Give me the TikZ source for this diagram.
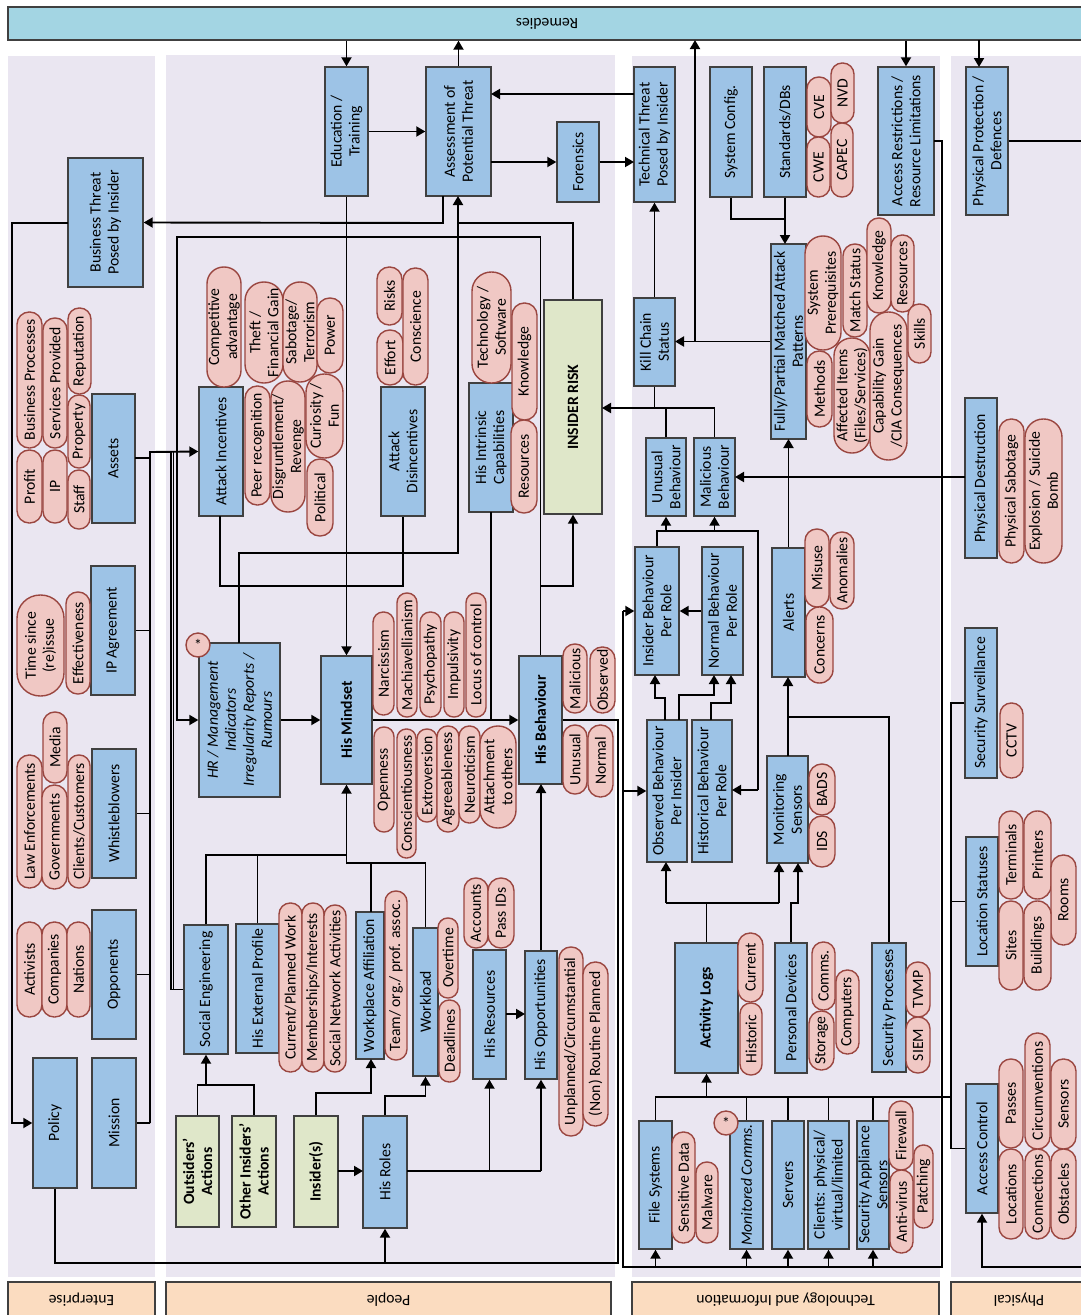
\documentclass[tikz,border=0pt]{standalone}
\usepackage{fontspec}
\setmainfont{Carlito}
\usetikzlibrary{arrows.meta}
\definecolor{remc}{HTML}{A3D5E3}
\definecolor{panel}{HTML}{EAE6F1}
\definecolor{bluec}{HTML}{9DC3E6}
\definecolor{pillc}{HTML}{F0C8C4}
\definecolor{pilld}{HTML}{9A4640}
\definecolor{greenc}{HTML}{DFE7C9}
\definecolor{peach}{HTML}{FBDCC0}
\definecolor{edge}{HTML}{404040}
\tikzset{
 txt/.style={font=\fontsize{15.7}{18}\selectfont},
 boxst/.style={draw=edge, line width=1.4pt, fill=bluec, inner sep=0pt},
 grnst/.style={draw=edge, line width=1.4pt, fill=greenc, inner sep=0pt},
 pillst/.style={draw=pilld, line width=1.4pt, fill=pillc, inner sep=0pt},
 labst/.style={draw=edge, line width=1.4pt, fill=peach, inner sep=0pt},
 rtxt/.style={rotate=90, align=center, txt, inner sep=0pt},
 conn/.style={line width=1.9pt, black},
 arr/.style={conn, -{Triangle[length=9pt,width=10pt]}},
}
\newcommand\BX[7]{\node[#1,minimum width={(#5-#3)*1pt},minimum height={(#6-#4)*1pt},label={[rtxt]center:{#7}}] (#2) at ({(#3+#5)/2},{(#4+#6)/2}) {};}
\newcommand\PL[6]{\pgfmathsetmacro\pillr{min(#4-#2,#5-#3)/2-0.3}\node[pillst,rounded corners=\pillr pt,minimum width={(#4-#2)*1pt},minimum height={(#5-#3)*1pt},label={[rtxt]center:{#6}}] (#1) at ({(#2+#4)/2},{(#3+#5)/2}) {};}
\begin{document}
\begin{tikzpicture}[x=1pt,y=-1pt]
\useasboundingbox (0,0) rectangle (1081,1315);
\clip (0,0) rectangle (1081,1315);
% panels
\fill[panel] (8,56) rectangle (155,1277);
\fill[panel] (166,55) rectangle (615,1277);
\fill[panel] (632,56) rectangle (940,1277);
\fill[panel] (951,56) rectangle (1095,1277);
% remedies bar and section labels
\node[labst,fill=remc,minimum width=1078pt,minimum height=33pt,label={[txt,rotate=180]center:Remedies}] (rem) at (547,23.5) {};
\node[labst,minimum width=147pt,minimum height=36pt,label={[txt,rotate=180]center:Enterprise}] (lent) at (81.5,1300) {};
\node[labst,minimum width=445pt,minimum height=36pt,label={[txt,rotate=180]center:People}] (lpeo) at (388.5,1300) {};
\node[labst,minimum width=307pt,minimum height=36pt,label={[txt,rotate=180]center:Technology and Information}] (ltec) at (785.5,1300) {};
\node[labst,minimum width=136pt,minimum height=36pt,label={[txt,rotate=180]center:Physical}] (lphy) at (1019,1300) {};
% ---------------- Enterprise
\BX{boxst}{bt}{68}{158}{143}{287}{Business Threat\\Posed by Insider}
\PL{pbp}{17}{312}{42}{448}{Business Processes}
\PL{psp}{43}{318}{67}{448}{Services Provided}
\PL{prep}{68}{308}{91}{394}{Reputation}
\PL{pprof}{17}{450}{42}{523}{Profit}
\PL{pip}{43}{450}{67}{523}{IP}
\PL{pprop}{68}{395}{90}{468}{Property}
\PL{pstaff}{68}{470}{90}{529}{Staff}
\BX{boxst}{assets}{92}{394}{135}{523}{Assets}
\BX{boxst}{ipa}{91}{566}{135}{695}{IP Agreement}
\PL{ptime}{17}{595}{64}{696}{Time since\\(re)issue}
\PL{peff}{66}{592}{90}{694}{Effectiveness}
\BX{boxst}{whist}{92}{749}{136}{878}{Whistleblowers}
\PL{plaw}{17}{755}{42}{888}{Law Enforcements}
\PL{pgov}{42}{785}{67}{889}{Governments}
\PL{pmedia}{43}{712}{67}{783}{Media}
\PL{pcli}{68}{755}{90}{888}{Clients/Customers}
\BX{boxst}{opp}{92}{910}{136}{1039}{Opponents}
\PL{pact}{17}{922}{42}{1017}{Activists}
\PL{pcomp}{42}{922}{67}{1017}{Companies}
\PL{pnat}{67}{922}{90}{1017}{Nations}
\BX{boxst}{policy}{33}{1058}{77}{1188}{Policy}
\BX{boxst}{mission}{92}{1058}{136}{1188}{Mission}
% ---------------- People
\BX{boxst}{edu}{325}{67}{368}{196}{Education /\\Training}
\BX{boxst}{assess}{426}{67}{491}{196}{Assessment of\\Potential Threat}
\BX{boxst}{foren}{557}{122}{599}{202}{Forensics}
\BX{boxst}{attinc}{199}{387}{243}{516}{Attack Incentives}
\PL{pcomp2}{207}{267}{241}{387}{Competitive\\advantage}
\PL{ptheft}{245}{282}{283}{383}{Theft /\\Financial Gain}
\PL{psabo}{283}{282}{317}{382}{Sabotage/\\Terrorism}
\PL{ppower}{317}{298}{343}{373}{Power}
\PL{ppeer}{245}{386}{270}{505}{Peer recognition}
\PL{pdis}{271}{381}{305}{512}{Disgruntlement/\\Revenge}
\PL{pcur}{306}{374}{343}{458}{Curiosity /\\Fun}
\PL{ppol}{307}{459}{333}{536}{Political}
\BX{boxst}{attdis}{381}{387}{425}{516}{Attack\\Disincentives}
\PL{prisks}{377}{267}{402}{325}{Risks}
\PL{peffort}{377}{330}{403}{385}{Effort}
\PL{pcons}{403}{268}{428}{385}{Conscience}
\BX{boxst}{intr}{469}{383}{513}{512}{His Intrinsic\\Capabilities}
\PL{ptech}{472}{272}{511}{383}{Technology /\\Software}
\PL{pknow}{512}{303}{537}{420}{Knowledge}
\PL{pres}{511}{420}{537}{513}{Resources}
\BX{grnst}{risk}{544}{300}{602}{514}{\textbf{INSIDER RISK}}
\BX{boxst}{hr}{199}{643}{280}{797}{\textit{HR / Management}\\\textit{Indicators}\\\textit{Irregularity Reports /}\\\textit{Rumours}}
\node[pillst,circle,minimum size=24pt,txt] (star1) at (198,645) {*};
\BX{boxst}{mind}{321}{656}{372}{784}{\textbf{His Mindset}}
\PL{pnar}{373}{612}{394}{715}{Narcissism}
\PL{pmach}{397}{593}{417}{717}{Machiavellianism}
\PL{ppsy}{420}{612}{441}{717}{Psychopathy}
\PL{pimp}{444}{612}{464}{717}{Impulsivity}
\PL{ploc}{466}{593}{486}{717}{Locus of control}
\PL{popen}{374}{727}{394}{832}{Openness}
\PL{pconsc}{397}{729}{416}{858}{Conscientiousness}
\PL{pextro}{417}{729}{437}{822}{Extroversion}
\PL{pagree}{437}{726}{459}{832}{Agreeableness}
\PL{pneuro}{459}{726}{480}{823}{Neuroticism}
\PL{pattach}{480}{726}{516}{828}{Attachment\\to others}
\BX{boxst}{beh}{519}{656}{562}{784}{\textbf{His Behaviour}}
\PL{pmal}{563}{644}{587}{713}{Malicious}
\PL{pobs}{590}{647}{615}{713}{Observed}
\PL{punu}{563}{725}{587}{794}{Unusual}
\PL{pnorm}{588}{725}{613}{797}{Normal}
\BX{boxst}{soc}{184}{925}{228}{1054}{Social Engineering}
\BX{boxst}{ext}{236}{924}{279}{1053}{His External Profile}
\PL{pcurw}{279}{903}{302}{1072}{Current/Planned Work}
\PL{pmem}{302}{903}{324}{1072}{Memberships/Interests}
\PL{psna}{324}{905}{346}{1072}{Social Network Activities}
\BX{boxst}{work}{356}{912}{384}{1059}{Workplace Affiliation}
\PL{pteam}{385}{891}{407}{1060}{Team/ org./ prof. assoc.}
\BX{boxst}{wl}{413}{928}{438}{1076}{Workload}
\PL{pover}{438}{918}{458}{998}{Overtime}
\PL{pdead}{439}{1000}{460}{1082}{Deadlines}
\PL{pacc}{464}{878}{488}{948}{Accounts}
\PL{ppass}{488}{878}{514}{948}{Pass IDs}
\BX{boxst}{hres}{473}{950}{506}{1079}{His Resources}
\BX{boxst}{hopp}{525}{951}{557}{1079}{His Opportunities}
\PL{punp}{559}{947}{583}{1136}{Unplanned/Circumstantial}
\PL{pnon}{583}{962}{608}{1126}{(Non) Routine Planned}
\BX{boxst}{roles}{363}{1116}{407}{1228}{His Roles}
\BX{grnst}{outs}{176}{1116}{219}{1227}{\textbf{Outsiders'}\\\textbf{Actions}}
\BX{grnst}{othi}{232}{1116}{276}{1227}{\textbf{Other Insiders'}\\\textbf{Actions}}
\BX{grnst}{ins}{294}{1116}{338}{1227}{\textbf{Insider(s)}}
% ---------------- Technology
\BX{boxst}{tech}{634}{67}{675}{202}{Technical Threat\\Posed by Insider}
\BX{boxst}{kill}{634}{298}{675}{386}{Kill Chain\\Status}
\BX{boxst}{unu}{646}{438}{686}{516}{Unusual\\Behaviour}
\BX{boxst}{mal}{694}{438}{735}{516}{Malicious\\Behaviour}
\BX{boxst}{ibr}{635}{547}{679}{675}{Insider Behaviour\\Per Role}
\BX{boxst}{nbr}{702}{547}{743}{675}{Normal Behaviour\\Per Role}
\BX{boxst}{obs}{647}{720}{687}{862}{Observed Behaviour\\Per Insider}
\BX{boxst}{hist}{692}{720}{732}{862}{Historical Behaviour\\Per Role}
\BX{boxst}{alerts}{772}{548}{805}{677}{Alerts}
\PL{pmis}{805}{529}{829}{607}{Misuse}
\PL{panom}{830}{532}{854}{609}{Anomalies}
\PL{pconc}{806}{607}{833}{683}{Concerns}
\BX{boxst}{mon}{767}{756}{808}{863}{Monitoring\\Sensors}
\PL{pbads}{809}{764}{835}{815}{BADS}
\PL{pids}{809}{816}{835}{867}{IDS}
\BX{boxst}{fpm}{771}{244}{806}{439}{Fully/Partial Matched Attack\\Patterns}
\PL{psys}{805}{236}{841}{350}{System\\Prerequisites}
\PL{pmatch}{843}{244}{867}{337}{Match Status}
\PL{pknow2}{867}{218}{891}{313}{Knowledge}
\PL{pres2}{891}{235}{914}{312}{Resources}
\PL{pskill}{908}{304}{931}{363}{Skills}
\PL{pmeth}{807}{351}{832}{427}{Methods}
\PL{paff}{834}{338}{870}{453}{Affected Items\\(Files/Services)}
\PL{pcap}{870}{312}{907}{460}{Capability Gain\\/CIA Consequences}
\BX{boxst}{sysc}{710}{67}{752}{197}{System Config.}
\BX{boxst}{std}{764}{67}{806}{197}{Standards/DBs}
\PL{pcve}{807}{77}{831}{137}{CVE}
\PL{pnvd}{831}{63}{854}{123}{NVD}
\PL{pcwe}{807}{137}{830}{197}{CWE}
\PL{pcapec}{831}{123}{853}{197}{CAPEC}
\BX{boxst}{accr}{878}{67}{934}{215}{Access Restrictions /\\Resource Limitations}
\BX{boxst}{alog}{675}{943}{738}{1073}{\textbf{Activity Logs}}
\PL{pcurr}{738}{933}{763}{1002}{Current}
\PL{phisto}{740}{1003}{762}{1075}{Historic}
\BX{boxst}{pdev}{775}{943}{807}{1073}{Personal Devices}
\PL{pcomms}{812}{942}{835}{1010}{Comms.}
\PL{pstor}{809}{1011}{834}{1070}{Storage}
\PL{pcomput}{836}{970}{859}{1054}{Computers}
\BX{boxst}{secp}{872}{943}{906}{1072}{Security Processes}
\PL{ptvmp}{906}{962}{930}{1017}{TVMP}
\PL{psiem}{906}{1017}{930}{1073}{SIEM}
\BX{boxst}{fs}{639}{1121}{672}{1249}{File Systems}
\PL{psens}{672}{1132}{695}{1243}{Sensitive Data}
\PL{pmalw}{696}{1162}{718}{1243}{Malware}
\BX{boxst}{mcomm}{730}{1121}{763}{1249}{\textit{Monitored Comms.}}
\node[pillst,circle,minimum size=24pt,txt] (star2) at (726,1123) {*};
\BX{boxst}{serv}{772}{1121}{804}{1249}{Servers}
\BX{boxst}{clients}{808}{1121}{849}{1249}{Clients: physical/\\virtual/limited}
\BX{boxst}{sapp}{857}{1121}{889}{1249}{Security Appliance\\Sensors}
\PL{pfire}{889}{1101}{913}{1170}{Firewall}
\PL{panti}{890}{1170}{913}{1253}{Anti-virus}
\PL{ppatch}{914}{1145}{933}{1228}{Patching}
% ---------------- Physical
\BX{boxst}{phprot}{966}{67}{1008}{215}{Physical Protection /\\Defences}
\BX{boxst}{phdest}{965}{398}{997}{558}{Physical Destruction}
\PL{pphsab}{999}{419}{1024}{563}{Physical Sabotage}
\PL{pexpl}{1025}{419}{1062}{563}{Explosion / Suicide\\Bomb}
\BX{boxst}{secs}{965}{628}{997}{778}{Security Surveillance}
\PL{pcctv}{1000}{703}{1023}{778}{CCTV}
\BX{boxst}{locs}{966}{837}{998}{966}{Location Statuses}
\PL{pterm}{999}{811}{1023}{899}{Terminals}
\PL{pprint}{1024}{811}{1051}{899}{Printers}
\PL{prooms}{1051}{855}{1076}{945}{Rooms}
\PL{psites}{999}{901}{1023}{990}{Sites}
\PL{pbuild}{1024}{901}{1051}{990}{Buildings}
\BX{boxst}{accc}{966}{1084}{998}{1213}{Access Control}
\PL{ppasses}{999}{1059}{1023}{1148}{Passes}
\PL{pcirc}{1025}{1033}{1050}{1149}{Circumventions}
\PL{psensors}{1051}{1059}{1076}{1149}{Sensors}
\PL{ploca}{999}{1149}{1023}{1239}{Locations}
\PL{pconn}{1025}{1149}{1050}{1239}{Connections}
\PL{pobst}{1051}{1149}{1076}{1239}{Obstacles}
% ================= connectors
\draw[arr] (edu.north |- rem.south) -- (edu.north);
\draw[arr] (assess.north) -- (assess.north |- rem.south);
\draw[arr] (accr.north |- rem.south) -- (accr.north);
\draw[arr] (979,40) -- (979,67);
\draw[arr] (edu.east) -- (assess.west);
\draw[arr] (634,94) -- (491,94);
\draw[arr] (491,162) -- (foren.west);
\draw[arr] (foren.east) -- (634,162);
\draw[arr] (kill.north) -- (tech.south);
\draw[arr] (edu.south) -- (mind.north);
\draw[arr] (443,196) -- (443,223) -- (bt.east);
\draw[arr] (risk.north) -- (573,223) -- (458,223) -- (458,196);
\draw[conn] (239,643) -- (239,553) -- (458,553) -- (458,223);
\draw[arr] (beh.north) -- (540.5,237) -- (177,237) -- (177,720) -- (hr.west);
\draw[arr] (540.5,586) -- (573,586) -- (risk.south);
\draw[arr] (68,223) -- (12,223) -- (12,1123) -- (policy.west);
\draw[conn] (135,458) -- (150,458);
\draw[arr] (150,1123) -- (150,452) -- (attinc.west);
\draw[conn] (ipa.east) -- (150,630.5);
\draw[conn] (whist.east) -- (150,813.5);
\draw[conn] (opp.east) -- (150,974.5);
\draw[conn] (mission.east) -- (150,1123);
\draw[conn] (soc.west) -- (171,989.5) -- (171,452);
\draw[conn] (173.5,989.5) -- (173.5,452);
\draw[conn] (220,516) -- (220,586) -- (403,586) -- (attdis.south);
\draw[conn] (491,512) -- (491,720);
\draw[arr] (mind.east) -- (beh.west);
\draw[arr] (hr.east) -- (mind.west);
\draw[arr] (hopp.north) -- (541,784);
\draw[conn] (soc.north) -- (206,855) -- (347,855);
\draw[conn] (ext.north) -- (257.5,855);
\draw[arr] (346.5,864) -- (mind.south);
\draw[conn] (371,912) -- (371,863);
\draw[conn] (wl.north) -- (425.5,863) -- (346.5,863);
\draw[conn] (outs.north) -- (197.5,1085) -- (254,1085) -- (othi.north);
\draw[arr] (206,1085) -- (soc.south);
\draw[arr] (ins.north) -- (316,1093) -- (371,1093) -- (371,1059);
\draw[arr] (338,1171) -- (363,1171);
\draw[arr] (roles.north) -- (385,1096) -- (425.5,1096) -- (wl.south);
\draw[conn] (407,1171) -- (541,1171);
\draw[arr] (489.5,1171) -- (hres.south);
\draw[arr] (541,1171) -- (hopp.south);
\draw[arr] (506,1014) -- (525,1014);
\draw[conn] (policy.south) -- (55,1263) -- (618,1263) -- (618,720) -- (beh.east);
\draw[arr] (385,1263) -- (roles.south);
% technology buses
\draw[conn] (934,141) -- (942,141) -- (942,1267) -- (623,1267) -- (623,611);
\draw[arr] (623,611) -- (ibr.west);
\draw[arr] (623,791) -- (obs.west);
\draw[arr] (fs.south |- 0,1267) -- (fs.south);
\draw[arr] (mcomm.south |- 0,1267) -- (mcomm.south);
\draw[arr] (serv.south |- 0,1267) -- (serv.south);
\draw[arr] (clients.south |- 0,1267) -- (clients.south);
\draw[arr] (sapp.south |- 0,1267) -- (sapp.south);
\draw[conn] (fs.north) -- (655.5,1097) -- (951,1097);
\draw[conn] (mcomm.north) -- (mcomm.north |- 0,1097);
\draw[conn] (serv.north) -- (serv.north |- 0,1097);
\draw[conn] (clients.north) -- (clients.north |- 0,1097);
\draw[conn] (sapp.north) -- (sapp.north |- 0,1097);
\draw[arr] (alog.south |- 0,1097) -- (alog.south);
\draw[conn] (secs.west) -- (951,703) -- (951,1148.5) -- (accc.west);
\draw[conn] (locs.west) -- (951,901.5);
\draw[conn] (phprot.east |- 0,141) -- (1090,141);
\draw[arr] (1090,1267) -- (982,1267) -- (accc.south);
\draw[conn] (alog.north) -- (706.5,903);
\draw[conn] (666,903) -- (779,903);
\draw[arr] (666,903) -- (666,862);
\draw[arr] (779,903) -- (779,863);
\draw[arr] (pdev.north) -- (791,903) -- (798,903) -- (798,863);
\draw[arr] (788,756) -- (788,677);
\draw[conn] (secp.north) -- (889,717) -- (788,717);
\draw[arr] (alerts.north) -- (788.5,439);
\draw[arr] (fpm.west) -- (675,341.5);
\draw[arr] (695,341.5) -- (695,40);
\draw[conn] (sysc.south) -- (731,219) -- (785,219);
\draw[arr] (std.south) -- (785,244);
\draw[conn] (kill.south) -- (654.5,408);
\draw[conn] (unu.north) -- (666,408);
\draw[arr] (mal.north) -- (714.5,408) -- (602,408);
\draw[conn] (ibr.north) -- (657,531) -- (758,531) -- (758,790);
\draw[arr] (758,790) -- (732,790);
\draw[arr] (666,531) -- (unu.south);
\draw[arr] (714.5,531) -- (mal.south);
\draw[arr] (nbr.west) -- (ibr.east);
\draw[arr] (665,720) -- (665,698) -- (655,698) -- (655,675);
\draw[arr] (679,720) -- (679,695) -- (714,695) -- (714,675);
\draw[arr] (711,720) -- (711,703) -- (731,703) -- (731,675);
\draw[arr] (965,477) -- (735,477);
\end{tikzpicture}
\end{document}
